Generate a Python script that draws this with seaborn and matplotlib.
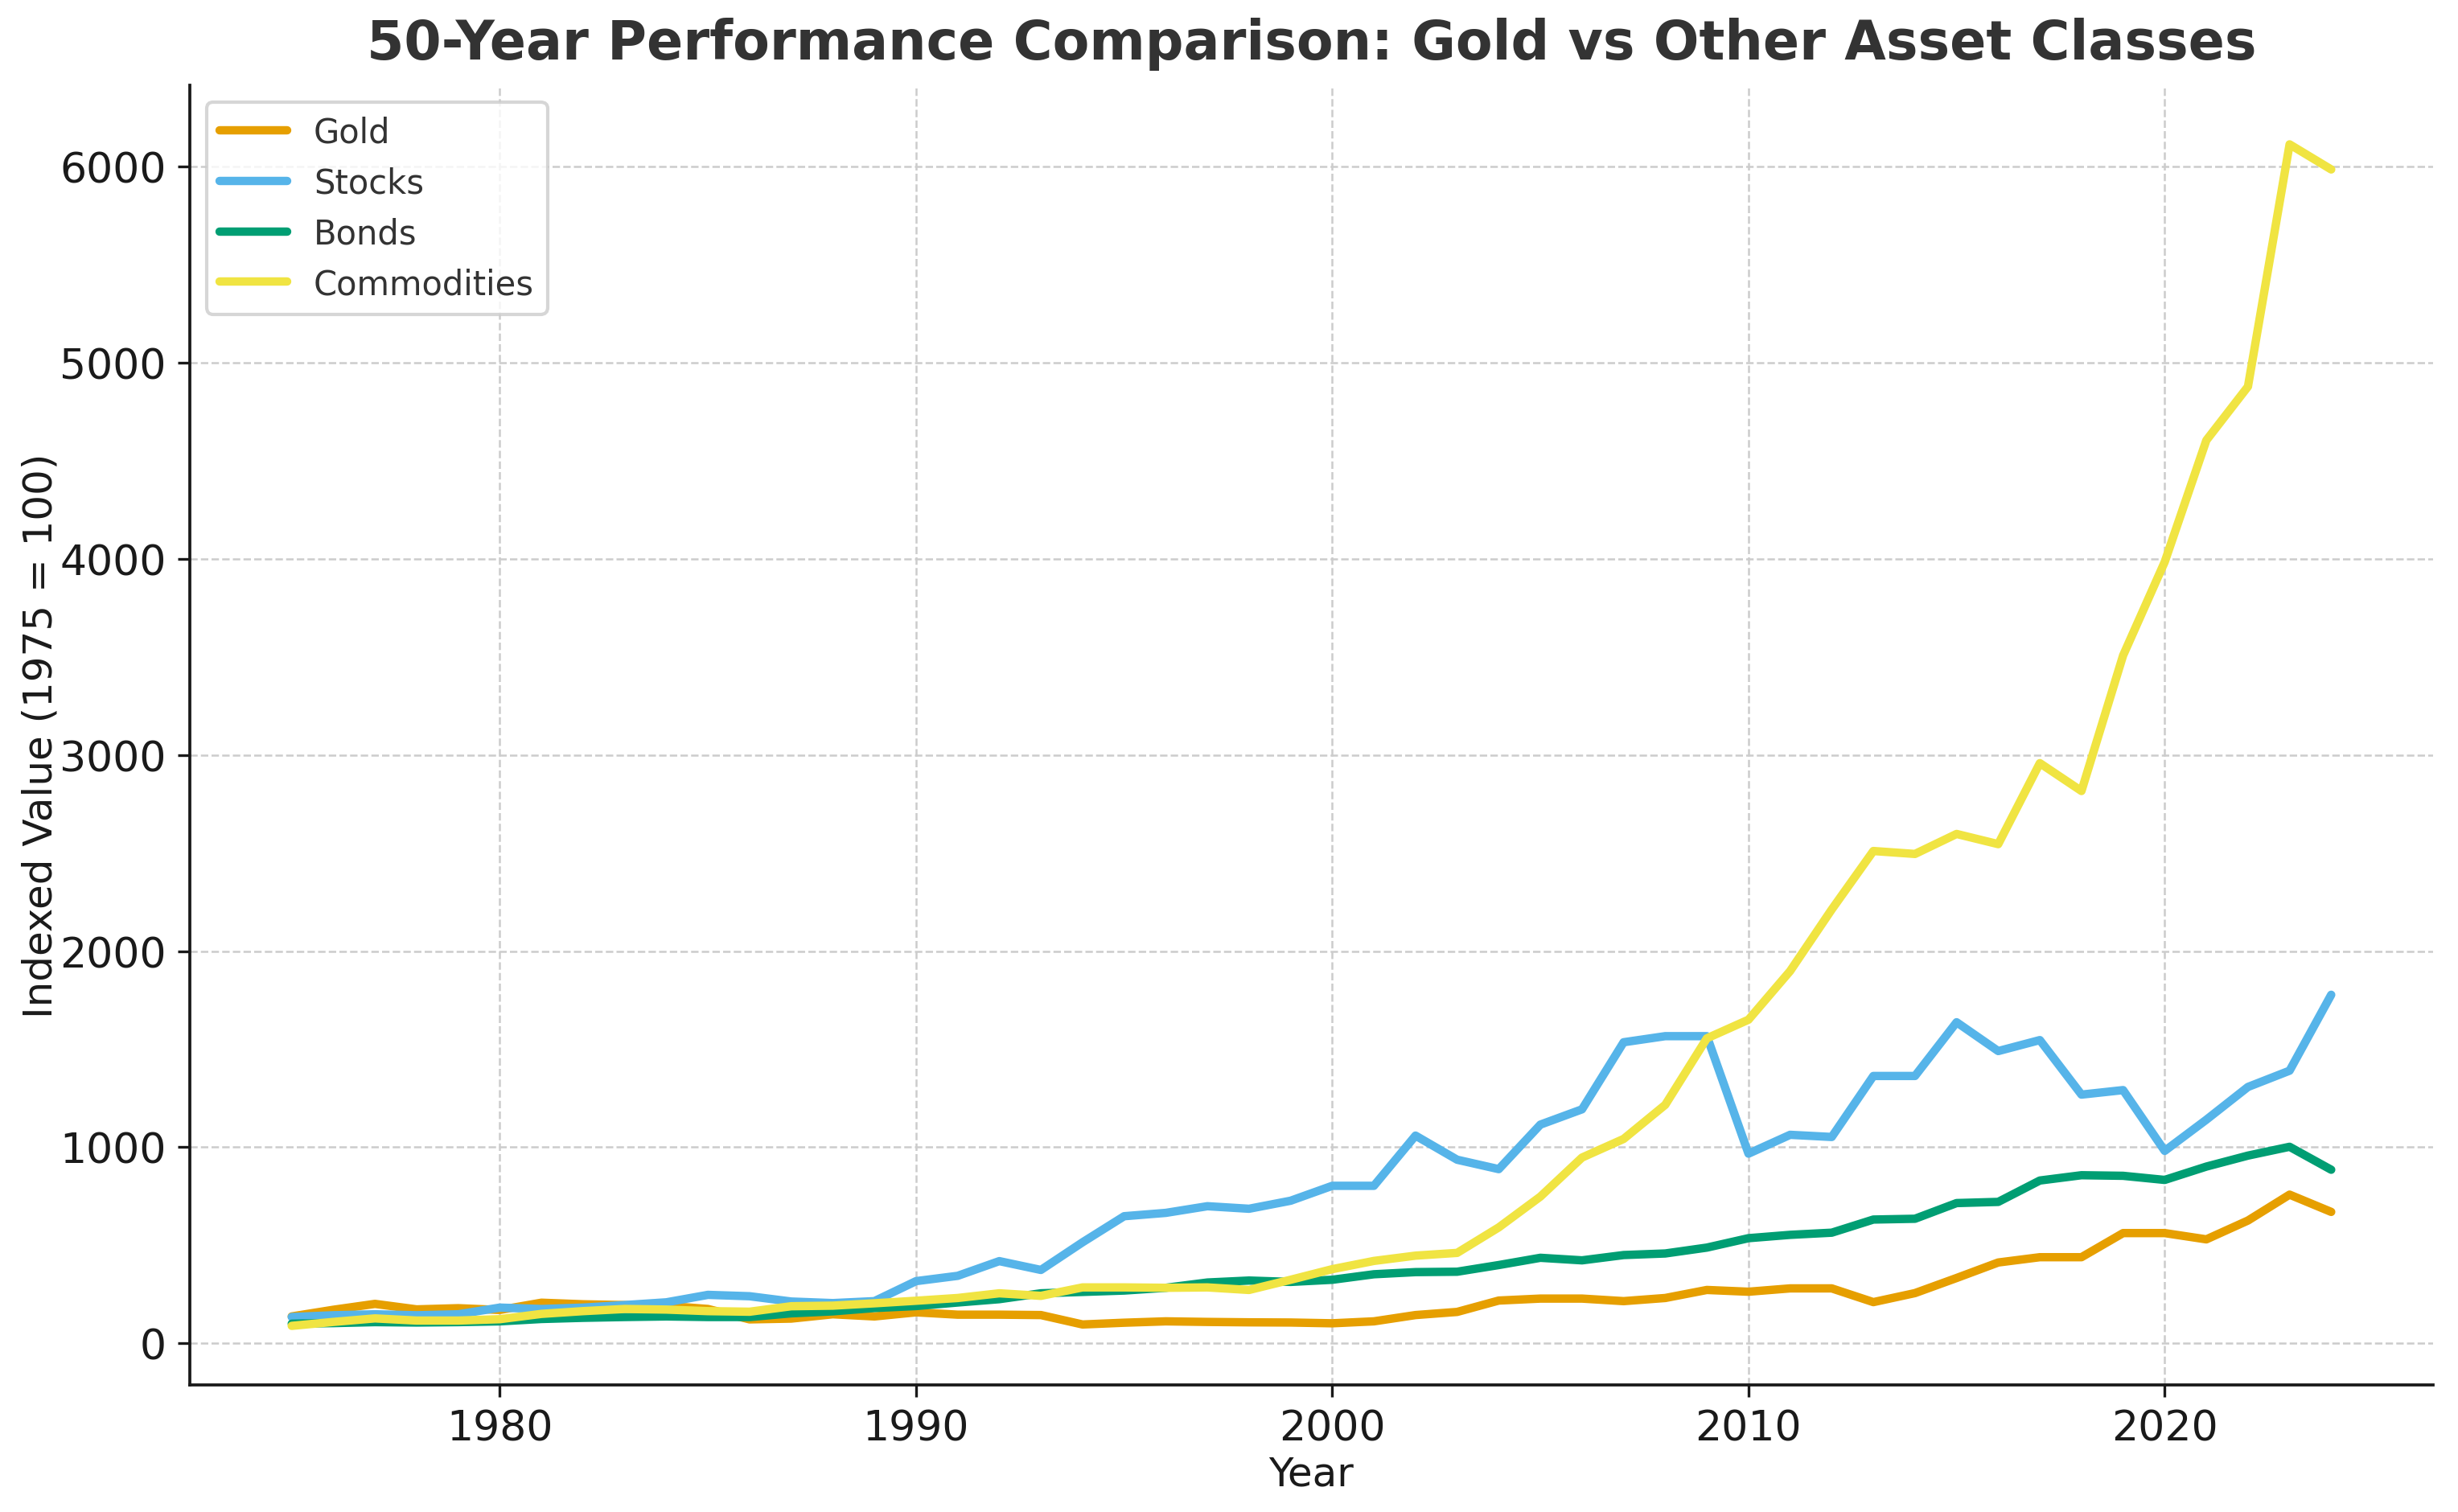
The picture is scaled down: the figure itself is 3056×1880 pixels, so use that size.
import matplotlib
matplotlib.use("Agg")
import matplotlib.pyplot as plt
import seaborn as sns
import pandas as pd

years = list(range(1975, 2025))

gold = [137, 171, 201, 173, 179, 170, 207, 199, 195, 191,
        175, 122, 126, 148, 137, 158, 146, 146, 144, 96,
        105, 112, 109, 107, 106, 102, 112, 144, 160, 218,
        228, 228, 215, 231, 272, 263, 280, 280, 210, 256,
        333, 412, 439, 439, 562, 562, 530, 626, 758, 670]

stocks = [134, 143, 148, 143, 148, 182, 175, 182, 195, 209,
          247, 240, 213, 205, 215, 317, 344, 419, 374, 515,
          648, 665, 699, 686, 727, 803, 803, 1059, 936, 888,
          1115, 1193, 1535, 1566, 1566, 967, 1063, 1052, 1363, 1363,
          1637, 1490, 1546, 1268, 1291, 981, 1140, 1307, 1390, 1777]

bonds = [100, 103, 108, 106, 108, 112, 124, 130, 134, 137,
         134, 134, 153, 163, 180, 190, 208, 225, 255, 262,
         269, 283, 310, 320, 313, 324, 352, 363, 365, 399,
         436, 423, 450, 458, 488, 536, 553, 564, 631, 635,
         715, 721, 830, 857, 854, 833, 901, 957, 1002, 885]

commodities = [89, 109, 127, 116, 116, 123, 150, 164, 175, 172,
               164, 161, 189, 192, 204, 217, 231, 255, 242, 285,
               285, 283, 285, 272, 324, 378, 420, 447, 461, 591,
               748, 947, 1042, 1216, 1555, 1650, 1898, 2212, 2510, 2495,
               2597, 2545, 2958, 2816, 3507, 3984, 4604, 4878, 6113, 5985]

series_names = ["Gold", "Stocks", "Bonds", "Commodities"]
colors = ["#E69F00", "#56B4E9", "#009E73", "#F0E442"]

title = "50-Year Performance Comparison: Gold vs Other Asset Classes"
xlabel = "Year"
ylabel = "Indexed Value (1975 = 100)"

frames = []
for name, vals in zip(series_names, [gold, stocks, bonds, commodities]):
    frames.append(pd.DataFrame({"Year": years, "Value": vals, "Asset": name}))
df = pd.concat(frames, ignore_index=True)

sns.set_style("white")
plt.rcParams["font.family"] = ["DejaVu Sans"]

fig, ax = plt.subplots(figsize=(3056 / 300, 1881 / 300), dpi=300)
fig.subplots_adjust(left=0.0772, right=0.9899, top=0.9431, bottom=0.084)

sns.lineplot(data=df, x="Year", y="Value", hue="Asset", hue_order=series_names,
             palette=dict(zip(series_names, colors)), linewidth=2.5, ax=ax)

ax.grid(True, linestyle="--", color="#cccccc", linewidth=0.6)
ax.set_axisbelow(True)
for side in ["top", "right"]:
    ax.spines[side].set_visible(False)
for side in ["left", "bottom"]:
    ax.spines[side].set_color("#1a1a1a")
    ax.spines[side].set_linewidth(0.9)

ax.tick_params(axis="both", which="major", labelsize=12.5, colors="#1a1a1a",
               length=3.5, width=0.8, direction="out", bottom=True, left=True)
ax.set_xlabel(xlabel, fontsize=12, color="#1a1a1a", labelpad=1.8)
ax.set_ylabel(ylabel, fontsize=12, color="#1a1a1a", labelpad=0)
ax.set_title(title, fontsize=16, fontweight="bold", color="#333333", pad=8)

leg = ax.legend(loc="upper left", fontsize=10, frameon=True, title=None)
leg.get_frame().set_edgecolor("#cccccc")
for t in leg.get_texts():
    t.set_color("#333333")

fig.savefig("out.png", dpi=300)
